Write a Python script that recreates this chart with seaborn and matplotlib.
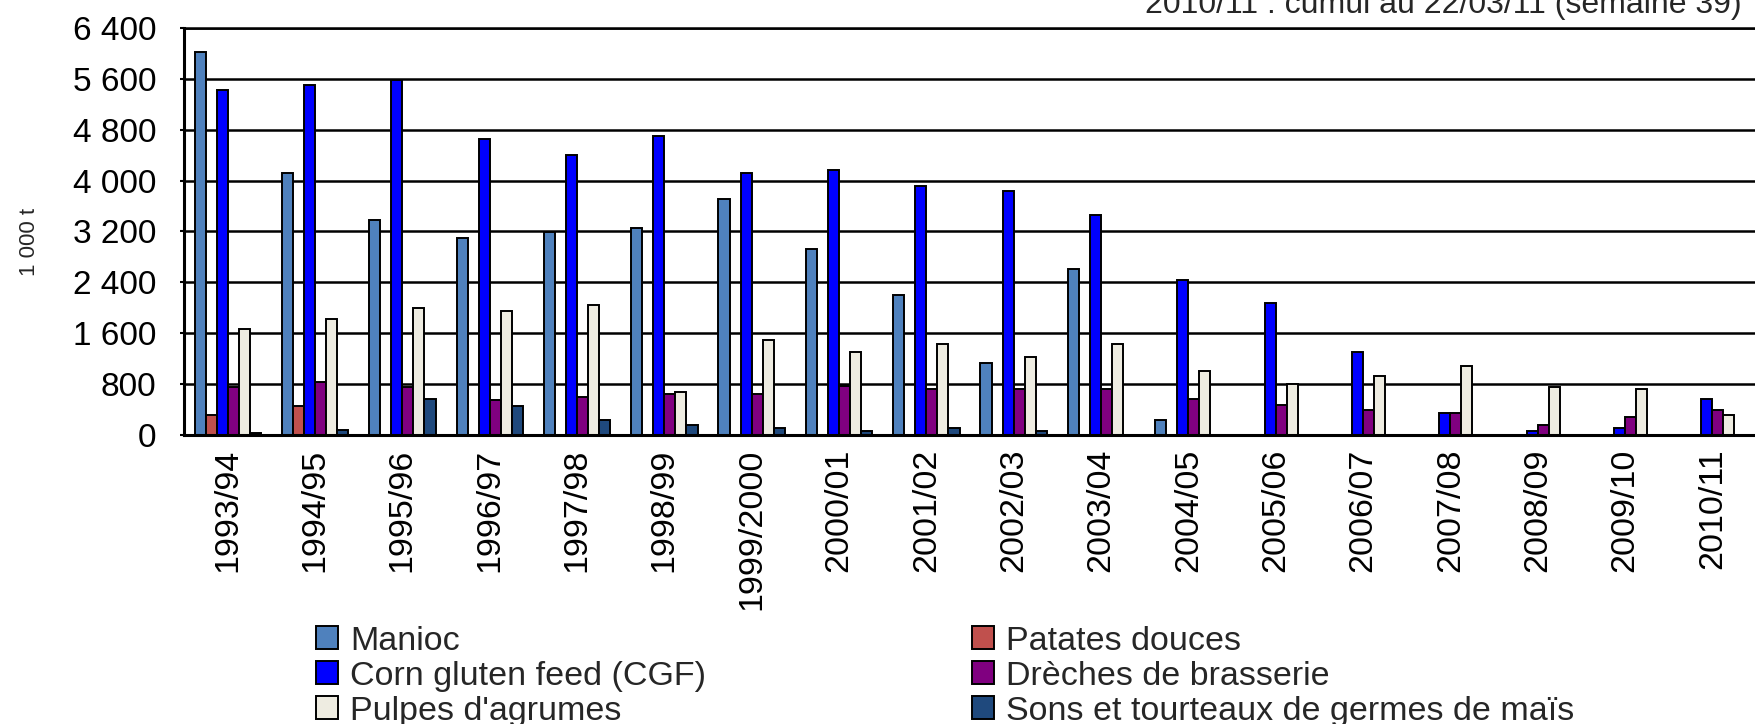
import numpy as np
import pandas as pd
import seaborn as sns
import matplotlib
matplotlib.use("Agg")
import matplotlib.pyplot as plt
from matplotlib.ticker import FuncFormatter

years = ["1993/94", "1994/95", "1995/96", "1996/97", "1997/98", "1998/99",
         "1999/2000", "2000/01", "2001/02", "2002/03", "2003/04", "2004/05",
         "2005/06", "2006/07", "2007/08", "2008/09", "2009/10", "2010/11"]

nan = np.nan
manioc = [6030, 4120, 3380, 3100, 3190, 3260, 3710, 2930, 2200, 1130, 2610, 240,
          nan, nan, nan, nan, nan, nan]
patates = [320, 450, nan, nan, nan, nan, nan, nan, nan, nan, nan, nan,
           nan, nan, nan, nan, nan, nan]
cgf = [5430, 5510, 5590, 4650, 4410, 4700, 4120, 4160, 3920, 3840, 3460, 2440,
       2070, 1300, 350, 70, 105, 560]
dreches = [760, 840, 760, 550, 600, 650, 650, 770, 730, 730, 730, 560,
           470, 390, 350, 160, 290, 390]
pulpes = [1660, 1830, 1990, 1950, 2050, 680, 1500, 1300, 1430, 1220, 1430, 1010,
          800, 930, 1090, 760, 720, 315]
sons = [37, 80, 570, 450, 240, 150, 110, 70, 110, 70, nan, nan,
        nan, nan, nan, nan, nan, nan]

series = ["Manioc", "Patates douces", "Corn gluten feed (CGF)",
          "Drèches de brasserie", "Pulpes d'agrumes",
          "Sons et tourteaux de germes de maïs"]
colors = ["#4F81BD", "#C0504D", "#0000FF", "#800080", "#EEECE1", "#1F497D"]
# ordre de la légende (2 colonnes, remplies colonne par colonne)
legend_order = [0, 2, 4, 1, 3, 5]

df = pd.DataFrame({
    "campagne": years * 6,
    "serie": np.repeat(series, len(years)),
    "valeur": manioc + patates + cgf + dreches + pulpes + sons,
})

sns.set_style("white")
plt.rcParams["font.family"] = ["Liberation Sans", "DejaVu Sans"]

fig = plt.figure(figsize=(17.56, 7.24), dpi=100)
ax = fig.add_axes([0.1048, 0.3992, 0.8952, 0.5621])

sns.barplot(data=df, x="campagne", y="valeur", hue="serie", hue_order=series,
            order=years, palette=colors, saturation=1, width=0.76,
            errorbar=None, edgecolor="black", linewidth=1.4, ax=ax)

ax.set_ylim(0, 6400)
ax.set_xlim(-0.5, len(years) - 0.5)
ax.set_yticks(np.arange(0, 6401, 800))
ax.yaxis.set_major_formatter(FuncFormatter(lambda v, p: f"{v:,.0f}".replace(",", " ")))
ax.yaxis.grid(True, color="black", linewidth=1.8)
ax.set_axisbelow(True)

ax.spines["right"].set_visible(False)
for s in ["left", "bottom", "top"]:
    ax.spines[s].set_color("black")
    ax.spines[s].set_linewidth(1.8)
ax.spines["left"].set_linewidth(2.2)
ax.spines["bottom"].set_linewidth(2.2)

ax.tick_params(axis="y", labelsize=24, length=3, width=1.5, direction="out",
               left=True, pad=17, colors="black")
ax.tick_params(axis="x", labelsize=24.5, length=0, pad=10, rotation=90,
               colors="black")
ax.set_xlabel("")
ax.set_ylabel("")
fig.text(30 / 1756, 1 - 242 / 724, "1 000 t", rotation=90, ha="center",
         va="center", fontsize=16)

handles, labels = ax.get_legend_handles_labels()
ax.legend([handles[i] for i in legend_order], [labels[i] for i in legend_order],
          ncol=2, frameon=False, fontsize=24.5,
          loc="upper left", bbox_to_anchor=(0.18, 0.136),
          bbox_transform=fig.transFigure, handlelength=0.65, handleheight=0.65,
          handletextpad=0.35, columnspacing=7.8, labelspacing=0.12,
          borderaxespad=0, borderpad=0)

fig.text(1742 / 1756, 1 - 13 / 724, "2010/11 : cumul au 22/03/11 (semaine 39)",
         ha="right", va="baseline", fontsize=23)

fig.savefig("out.png", dpi=100)
